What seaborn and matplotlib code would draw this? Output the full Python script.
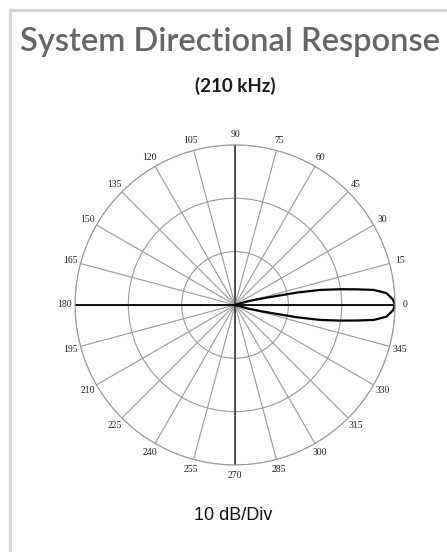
import numpy as np
import matplotlib
matplotlib.use("Agg")
import matplotlib.pyplot as plt
import seaborn as sns
from matplotlib.lines import Line2D

sns.set_style("white")

# beam pattern (degrees, dB relative to peak)
angle_deg = [-20, -16, -13.3, -11.3, -10, -8.5, -7.3, -6.2, -5.3, -4.4, -2, 0,
             2, 4.4, 5.3, 6.2, 7.3, 8.5, 10, 11.3, 13.3, 16, 20]
level_db = [-30, -27.5, -24.5, -18.2, -13.8, -10.1, -7.0, -3.9, -2.7, -1.5, -0.4, 0,
            -0.4, -1.5, -2.7, -3.9, -7.0, -10.1, -13.8, -18.2, -24.5, -27.5, -30]
tick_deg = list(range(0, 360, 15))
tick_labels = [str(t) for t in tick_deg]
ring_db = [10, 20, 30]   # 10 dB/Div, 30 dB span

theta = np.deg2rad(angle_deg)
r = np.array(level_db) + 30

fig = plt.figure(figsize=(4.47, 5.52), dpi=100)
fig.patch.set_facecolor("white")

ax = fig.add_axes([0.1678, 0.1576, 0.716, 0.58], projection="polar")
ax.set_ylim(0, 30)
ax.set_yticks(ring_db)
ax.set_yticklabels([])
ax.set_xticks(np.deg2rad(tick_deg))
ax.set_xticklabels(tick_labels, family="Liberation Serif", fontsize=7, color="#222222")
ax.tick_params(axis="x", pad=-3)
ax.grid(True, color="#9a9a9a", linewidth=0.8)
ax.spines["polar"].set_color("#9a9a9a")
ax.spines["polar"].set_linewidth(0.8)

# main axes lines
for a in [0, np.pi]:
    ax.axvline(a, color="black", linewidth=1.3)
for a in [np.pi / 2, 3 * np.pi / 2]:
    ax.axvline(a, color="#444444", linewidth=1.3)

sns.lineplot(x=theta, y=r, ax=ax, sort=False, estimator=None,
             color="black", linewidth=1.6)
ax.set_xlabel("")
ax.set_ylabel("")
ax.set_ylim(0, 30)

fig.text(0.514, 1 - 42 / 552, "System Directional Response", ha="center", va="center",
         family="Lato", fontweight="semibold", fontsize=23.5, color="#666666")
fig.text(0.526, 1 - 86 / 552, "(210 kHz)", ha="center", va="center",
         family="Lato", fontweight="bold", fontsize=13.5, color="#1a1a1a")
fig.text(0.522, 1 - 515 / 552, "10 dB/Div", ha="center", va="center",
         family="Liberation Sans", fontsize=13, color="#111111")

# panel frame (top and left edges)
fig.add_artist(Line2D([9.5 / 447, 9.5 / 447, 1.0], [0.0, 1 - 9.5 / 552, 1 - 9.5 / 552],
                      transform=fig.transFigure, color="#d6d6d6", linewidth=2.3))

fig.savefig("out.png", dpi=100)
